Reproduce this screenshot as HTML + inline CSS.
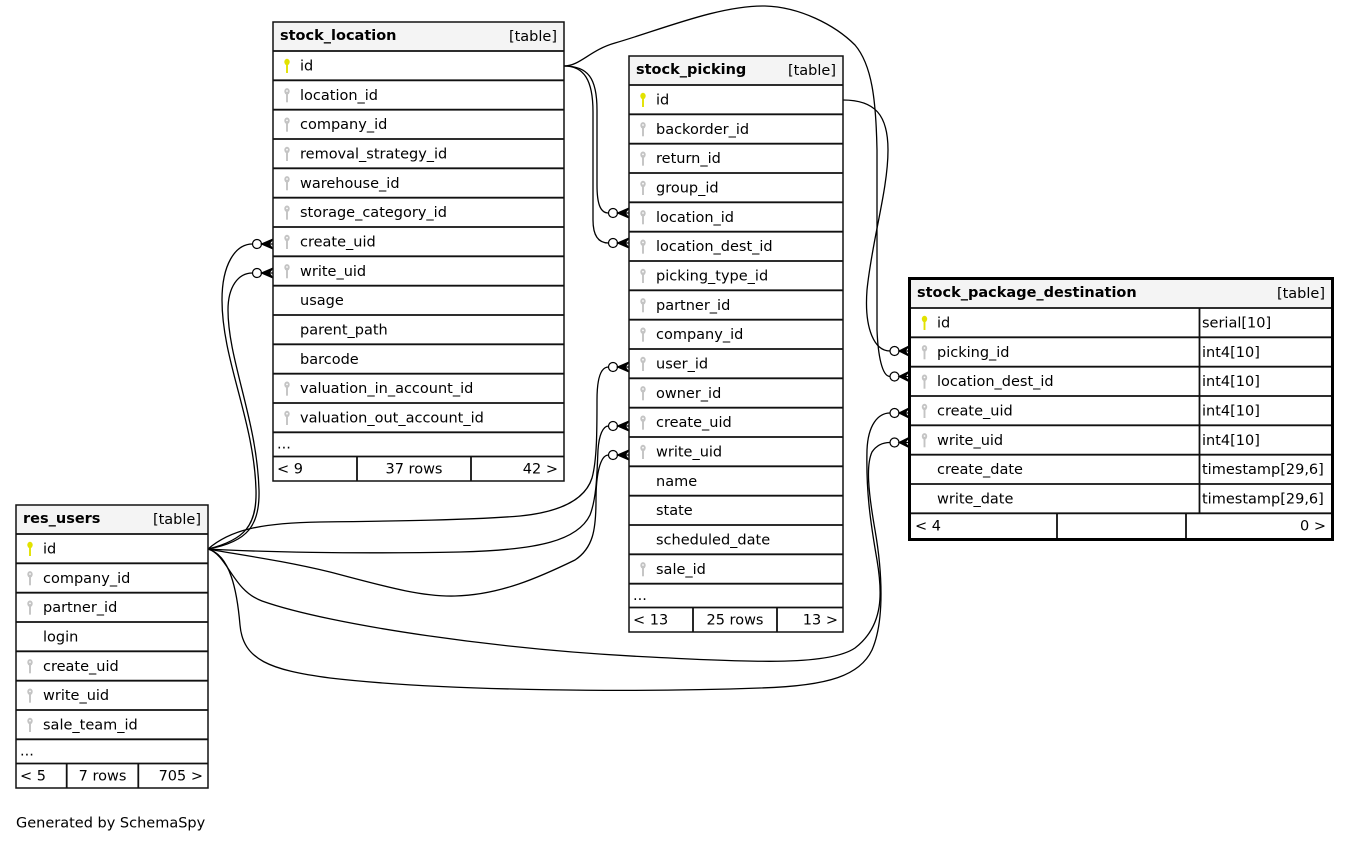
<!DOCTYPE html>
<html><head><meta charset="utf-8"><style>
html,body{margin:0;padding:0;background:#fff;}
svg{display:block;}
text{font-family:"DejaVu Sans","Liberation Sans",sans-serif;font-size:14.5px;fill:#000;}
.b{font-weight:bold;}
.e{text-anchor:end;}
.m{text-anchor:middle;}
.sep{stroke:#111;stroke-width:1.8;}
.edge{fill:none;stroke:#000;stroke-width:1.3;}
</style></head><body>
<svg width="1351" height="843" viewBox="0 0 1351 843" xmlns="http://www.w3.org/2000/svg">
<defs>
<g id="pk"><ellipse cx="0" cy="0" rx="2.7" ry="3.2" fill="#e2e200"/><rect x="-0.95" y="1" width="1.9" height="10" fill="#e2e200"/></g>
<g id="fk"><ellipse cx="0" cy="0" rx="2.7" ry="3.2" fill="#c4c4c4"/><rect x="-0.95" y="1" width="1.9" height="10" fill="#c4c4c4"/><circle cx="0" cy="-0.3" r="0.9" fill="#fff"/></g>
</defs>
<rect width="1351" height="843" fill="#fff"/>

<!-- ===== EDGES ===== -->
<path class="edge" d="M564,66 C588,66 597,78 597,110 L597,185 C597,203 600,213 608.5,213"/>
<path class="edge" d="M564,66 C584,66 593,80 593,112 L593,220 C593,235 598,243 608.5,243"/>
<path class="edge" d="M564,66 C580,66 590,50 615,43 C660,30 720,5 765,6 C800,7 835,25 855,45 C872,65 876,100 877,150 L877,330 C878,355 882,376.5 890,376.5"/>
<path class="edge" d="M843,100 C875,100 888,115 888,150 C888,190 872,240 867,290 C864,330 875,351 890,351"/>
<path class="edge" d="M208,549 C245,540 257,525 256,490 C254,420 222,360 222,300 C222,265 235,244 252.5,244"/>
<path class="edge" d="M208,549 C248,542 260,525 259,490 C257,420 228,360 228,310 C228,287 238,273 252.5,273"/>
<path class="edge" d="M208,549 C230,530 260,523 320,522 C400,521 470,520 520,516 C560,512 585,500 592,478 C597,460 597,430 597,400 C597,380 600,367 608.5,367"/>
<path class="edge" d="M208,549 C260,552 350,554 460,552 C540,550 578,540 590,515 C597,497 597,470 598,450 C599,435 603,426 608.5,426"/>
<path class="edge" d="M208,549 C240,555 280,560 330,572 C380,585 420,597 455,596 C500,595 540,577 575,560 C593,548 596,530 596,500 C596,475 600,455 608.5,455"/>
<path class="edge" d="M208,549 C228,555 232,590 262,601 C330,625 500,650 650,657 C760,663 830,665 855,648 C885,625 882,590 877,560 C870,520 866,490 867,450 C868,425 878,413 890,413"/>
<path class="edge" d="M208,549 C230,555 237,590 240,625 C243,660 270,670 330,678 C450,692 650,692 760,688 C830,686 860,675 872,650 C885,620 882,570 875,530 C868,490 866,465 872,452 C876,446 882,442.5 890,442.5"/>

<!-- markers: circle + crow -->
<g stroke="#000" stroke-width="1.2">
<circle cx="257" cy="244" r="4.5" fill="#fff"/><polygon points="273,239 261.5,244 273,249 269,244" fill="#000"/><line x1="261.5" y1="244" x2="273" y2="244"/>
<circle cx="257" cy="273" r="4.5" fill="#fff"/><polygon points="273,268 261.5,273 273,278 269,273" fill="#000"/><line x1="261.5" y1="273" x2="273" y2="273"/>
<circle cx="613" cy="213" r="4.5" fill="#fff"/><polygon points="629,208 617.5,213 629,218 625,213" fill="#000"/><line x1="617.5" y1="213" x2="629" y2="213"/>
<circle cx="613" cy="243" r="4.5" fill="#fff"/><polygon points="629,238 617.5,243 629,248 625,243" fill="#000"/><line x1="617.5" y1="243" x2="629" y2="243"/>
<circle cx="613" cy="367" r="4.5" fill="#fff"/><polygon points="629,362 617.5,367 629,372 625,367" fill="#000"/><line x1="617.5" y1="367" x2="629" y2="367"/>
<circle cx="613" cy="426" r="4.5" fill="#fff"/><polygon points="629,421 617.5,426 629,431 625,426" fill="#000"/><line x1="617.5" y1="426" x2="629" y2="426"/>
<circle cx="613" cy="455" r="4.5" fill="#fff"/><polygon points="629,450 617.5,455 629,460 625,455" fill="#000"/><line x1="617.5" y1="455" x2="629" y2="455"/>
<circle cx="894.5" cy="351" r="4.5" fill="#fff"/><polygon points="909,346 899,351 909,356 905,351" fill="#000"/><line x1="899" y1="351" x2="909" y2="351"/>
<circle cx="894.5" cy="376.5" r="4.5" fill="#fff"/><polygon points="909,371.5 899,376.5 909,381.5 905,376.5" fill="#000"/><line x1="899" y1="376.5" x2="909" y2="376.5"/>
<circle cx="894.5" cy="413" r="4.5" fill="#fff"/><polygon points="909,408 899,413 909,418 905,413" fill="#000"/><line x1="899" y1="413" x2="909" y2="413"/>
<circle cx="894.5" cy="442.5" r="4.5" fill="#fff"/><polygon points="909,437.5 899,442.5 909,447.5 905,442.5" fill="#000"/><line x1="899" y1="442.5" x2="909" y2="442.5"/>
</g>

<!-- ===== stock_location ===== -->
<rect x="273" y="22" width="291" height="29" fill="#f4f4f4"/>
<rect x="273" y="22" width="291" height="459" fill="none" stroke="#111" stroke-width="1.5"/>
<g class="sep">
<line x1="273" y1="51" x2="564" y2="51"/><line x1="273" y1="80.33" x2="564" y2="80.33"/><line x1="273" y1="109.67" x2="564" y2="109.67"/><line x1="273" y1="139" x2="564" y2="139"/><line x1="273" y1="168.33" x2="564" y2="168.33"/><line x1="273" y1="197.67" x2="564" y2="197.67"/><line x1="273" y1="227" x2="564" y2="227"/><line x1="273" y1="256.33" x2="564" y2="256.33"/><line x1="273" y1="285.67" x2="564" y2="285.67"/><line x1="273" y1="315" x2="564" y2="315"/><line x1="273" y1="344.33" x2="564" y2="344.33"/><line x1="273" y1="373.67" x2="564" y2="373.67"/><line x1="273" y1="403" x2="564" y2="403"/><line x1="273" y1="432.33" x2="564" y2="432.33"/><line x1="273" y1="456.5" x2="564" y2="456.5"/>
<line x1="357" y1="456.5" x2="357" y2="481"/><line x1="471" y1="456.5" x2="471" y2="481"/>
</g>
<text x="280" y="40" class="b">stock_location</text><text x="557" y="41" class="e">[table]</text>
<use href="#pk" x="287" y="62"/><text x="300" y="70.5">id</text>
<use href="#fk" x="287" y="91.3"/><text x="300" y="99.8">location_id</text>
<use href="#fk" x="287" y="120.7"/><text x="300" y="129.2">company_id</text>
<use href="#fk" x="287" y="150"/><text x="300" y="158.5">removal_strategy_id</text>
<use href="#fk" x="287" y="179.3"/><text x="300" y="187.8">warehouse_id</text>
<use href="#fk" x="287" y="208.7"/><text x="300" y="217.2">storage_category_id</text>
<use href="#fk" x="287" y="238"/><text x="300" y="246.5">create_uid</text>
<use href="#fk" x="287" y="267.3"/><text x="300" y="275.8">write_uid</text>
<text x="300" y="305.2">usage</text>
<text x="300" y="334.5">parent_path</text>
<text x="300" y="363.8">barcode</text>
<use href="#fk" x="287" y="384.7"/><text x="300" y="393.2">valuation_in_account_id</text>
<use href="#fk" x="287" y="414"/><text x="300" y="422.5">valuation_out_account_id</text>
<text x="277" y="448.5">...</text>
<text x="277" y="473.5">&lt; 9</text><text x="414" y="473.5" class="m">37 rows</text><text x="558" y="473.5" class="e">42 &gt;</text>

<!-- ===== stock_picking ===== -->
<rect x="629" y="56" width="214" height="29" fill="#f4f4f4"/>
<rect x="629" y="56" width="214" height="576" fill="none" stroke="#111" stroke-width="1.5"/>
<g class="sep">
<line x1="629" y1="85" x2="843" y2="85"/><line x1="629" y1="114.33" x2="843" y2="114.33"/><line x1="629" y1="143.67" x2="843" y2="143.67"/><line x1="629" y1="173" x2="843" y2="173"/><line x1="629" y1="202.33" x2="843" y2="202.33"/><line x1="629" y1="231.67" x2="843" y2="231.67"/><line x1="629" y1="261" x2="843" y2="261"/><line x1="629" y1="290.33" x2="843" y2="290.33"/><line x1="629" y1="319.67" x2="843" y2="319.67"/><line x1="629" y1="349" x2="843" y2="349"/><line x1="629" y1="378.33" x2="843" y2="378.33"/><line x1="629" y1="407.67" x2="843" y2="407.67"/><line x1="629" y1="437" x2="843" y2="437"/><line x1="629" y1="466.33" x2="843" y2="466.33"/><line x1="629" y1="495.67" x2="843" y2="495.67"/><line x1="629" y1="525" x2="843" y2="525"/><line x1="629" y1="554.33" x2="843" y2="554.33"/><line x1="629" y1="583.67" x2="843" y2="583.67"/><line x1="629" y1="607.5" x2="843" y2="607.5"/>
<line x1="693" y1="607.5" x2="693" y2="632"/><line x1="777" y1="607.5" x2="777" y2="632"/>
</g>
<text x="636" y="74" class="b">stock_picking</text><text x="836" y="75" class="e">[table]</text>
<use href="#pk" x="643" y="96"/><text x="656" y="104.5">id</text>
<use href="#fk" x="643" y="125.3"/><text x="656" y="133.8">backorder_id</text>
<use href="#fk" x="643" y="154.7"/><text x="656" y="163.2">return_id</text>
<use href="#fk" x="643" y="184"/><text x="656" y="192.5">group_id</text>
<use href="#fk" x="643" y="213.3"/><text x="656" y="221.8">location_id</text>
<use href="#fk" x="643" y="242.7"/><text x="656" y="251.2">location_dest_id</text>
<use href="#fk" x="643" y="272"/><text x="656" y="280.5">picking_type_id</text>
<use href="#fk" x="643" y="301.3"/><text x="656" y="309.8">partner_id</text>
<use href="#fk" x="643" y="330.7"/><text x="656" y="339.2">company_id</text>
<use href="#fk" x="643" y="360"/><text x="656" y="368.5">user_id</text>
<use href="#fk" x="643" y="389.3"/><text x="656" y="397.8">owner_id</text>
<use href="#fk" x="643" y="418.7"/><text x="656" y="427.2">create_uid</text>
<use href="#fk" x="643" y="448"/><text x="656" y="456.5">write_uid</text>
<text x="656" y="485.8">name</text>
<text x="656" y="515.2">state</text>
<text x="656" y="544.5">scheduled_date</text>
<use href="#fk" x="643" y="565.3"/><text x="656" y="573.8">sale_id</text>
<text x="633" y="600">...</text>
<text x="633" y="624.5">&lt; 13</text><text x="735" y="624.5" class="m">25 rows</text><text x="838" y="624.5" class="e">13 &gt;</text>

<!-- ===== res_users ===== -->
<rect x="16" y="505" width="192" height="29" fill="#f4f4f4"/>
<rect x="16" y="505" width="192" height="283" fill="none" stroke="#111" stroke-width="1.5"/>
<g class="sep">
<line x1="16" y1="534" x2="208" y2="534"/><line x1="16" y1="563.33" x2="208" y2="563.33"/><line x1="16" y1="592.67" x2="208" y2="592.67"/><line x1="16" y1="622" x2="208" y2="622"/><line x1="16" y1="651.33" x2="208" y2="651.33"/><line x1="16" y1="680.67" x2="208" y2="680.67"/><line x1="16" y1="710" x2="208" y2="710"/><line x1="16" y1="739.33" x2="208" y2="739.33"/><line x1="16" y1="763.5" x2="208" y2="763.5"/>
<line x1="66.7" y1="763.5" x2="66.7" y2="788"/><line x1="138.3" y1="763.5" x2="138.3" y2="788"/>
</g>
<text x="23" y="523" class="b">res_users</text><text x="201" y="524" class="e">[table]</text>
<use href="#pk" x="30" y="545"/><text x="43" y="553.5">id</text>
<use href="#fk" x="30" y="574.3"/><text x="43" y="582.8">company_id</text>
<use href="#fk" x="30" y="603.7"/><text x="43" y="612.2">partner_id</text>
<text x="43" y="641.5">login</text>
<use href="#fk" x="30" y="662.3"/><text x="43" y="670.8">create_uid</text>
<use href="#fk" x="30" y="691.7"/><text x="43" y="700.2">write_uid</text>
<use href="#fk" x="30" y="721"/><text x="43" y="729.5">sale_team_id</text>
<text x="20" y="755.5">...</text>
<text x="20" y="780.5">&lt; 5</text><text x="102.5" y="780.5" class="m">7 rows</text><text x="203" y="780.5" class="e">705 &gt;</text>

<!-- ===== stock_package_destination ===== -->
<rect x="909" y="278" width="424" height="30" fill="#f4f4f4"/>
<g class="sep">
<line x1="909" y1="308" x2="1333" y2="308"/><line x1="909" y1="337.33" x2="1333" y2="337.33"/><line x1="909" y1="366.67" x2="1333" y2="366.67"/><line x1="909" y1="396" x2="1333" y2="396"/><line x1="909" y1="425.33" x2="1333" y2="425.33"/><line x1="909" y1="454.67" x2="1333" y2="454.67"/><line x1="909" y1="484" x2="1333" y2="484"/><line x1="909" y1="513.33" x2="1333" y2="513.33"/>
<line x1="1199.5" y1="308" x2="1199.5" y2="513.33"/>
<line x1="1057" y1="513.33" x2="1057" y2="539"/><line x1="1186" y1="513.33" x2="1186" y2="539"/>
</g>
<rect x="909.5" y="278.5" width="423" height="261" fill="none" stroke="#000" stroke-width="3"/>
<text x="917" y="297" class="b">stock_package_destination</text><text x="1325" y="298" class="e">[table]</text>
<use href="#pk" x="924.5" y="319"/><text x="937" y="327.5">id</text><text x="1202" y="327.5">serial[10]</text>
<use href="#fk" x="924.5" y="348.3"/><text x="937" y="356.8">picking_id</text><text x="1202" y="356.8">int4[10]</text>
<use href="#fk" x="924.5" y="377.7"/><text x="937" y="386.2">location_dest_id</text><text x="1202" y="386.2">int4[10]</text>
<use href="#fk" x="924.5" y="407"/><text x="937" y="415.5">create_uid</text><text x="1202" y="415.5">int4[10]</text>
<use href="#fk" x="924.5" y="436.3"/><text x="937" y="444.8">write_uid</text><text x="1202" y="444.8">int4[10]</text>
<text x="937" y="474.2">create_date</text><text x="1202" y="474.2">timestamp[29,6]</text>
<text x="937" y="503.5">write_date</text><text x="1202" y="503.5">timestamp[29,6]</text>
<text x="915" y="530.5">&lt; 4</text><text x="1326" y="530.5" class="e">0 &gt;</text>

<text x="16" y="827.5">Generated by SchemaSpy</text>
</svg>
</body></html>
